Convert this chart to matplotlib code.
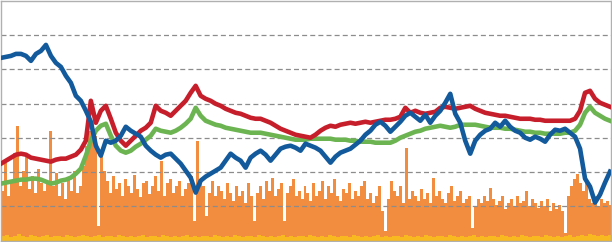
import numpy as np
import matplotlib
matplotlib.use("Agg")
import matplotlib.pyplot as plt

# three index lines, sampled at regular steps over the period
blue = [183, 184, 185, 187, 187, 185, 180, 187, 190, 196, 185, 178, 174, 165, 158, 145, 140, 130, 119, 95,
        85, 100, 98, 100, 105, 114, 110, 107, 104, 95, 90, 86, 83, 86, 87, 82, 77, 70, 63, 48,
        60, 64, 67, 70, 73, 80, 87, 83, 80, 73, 83, 87, 90, 86, 80, 86, 92, 94, 95, 93,
        90, 97, 95, 93, 90, 84, 78, 84, 88, 90, 92, 96, 100, 106, 110, 116, 119, 115, 109, 114,
        119, 125, 128, 124, 120, 126, 118, 125, 130, 138, 147, 127, 118, 100, 87, 100, 106, 110, 112, 118,
        114, 120, 114, 110, 108, 103, 101, 104, 102, 99, 106, 111, 110, 112, 108, 104, 92, 62, 54, 38,
        46, 58, 69]
red = [77, 80, 83, 86, 87, 86, 83, 82, 81, 80, 79, 81, 82, 82, 84, 86, 91, 100, 140, 118,
       130, 135, 122, 108, 100, 95, 100, 105, 110, 113, 118, 135, 130, 128, 125, 130, 135, 140, 148, 155,
       145, 142, 140, 137, 135, 132, 130, 128, 127, 125, 123, 122, 122, 120, 118, 115, 112, 110, 108, 106,
       105, 104, 103, 106, 110, 113, 115, 114, 116, 117, 118, 117, 118, 119, 118, 119, 120, 121, 121, 122,
       124, 133, 128, 130, 128, 127, 128, 129, 133, 134, 133, 132, 133, 134, 135, 132, 130, 128, 127, 126,
       125, 125, 124, 123, 122, 122, 122, 121, 121, 120, 120, 120, 120, 120, 120, 122, 130, 148, 150, 142,
       138, 136, 134]
green = [57, 58, 59, 60, 61, 61, 62, 62, 61, 59, 57, 58, 60, 61, 63, 67, 72, 85, 100, 110,
         115, 117, 105, 95, 90, 88, 90, 94, 97, 101, 105, 112, 110, 109, 108, 110, 113, 117, 122, 133,
         125, 120, 118, 116, 115, 113, 112, 111, 110, 109, 108, 108, 108, 107, 106, 105, 104, 103, 102, 101,
         101, 101, 102, 102, 102, 102, 102, 101, 101, 101, 100, 100, 99, 99, 99, 98, 98, 98, 98, 100,
         103, 105, 107, 109, 110, 112, 113, 114, 115, 114, 113, 114, 116, 116, 116, 116, 115, 114, 113, 113,
         113, 112, 112, 111, 110, 109, 109, 108, 108, 107, 107, 107, 107, 108, 108, 110, 116, 128, 134, 128,
         125, 122, 120]

# volume bars
volume = [50, 78, 45, 60, 88, 115, 55, 70, 85, 52,
          65, 48, 72, 58, 50, 60, 110, 55, 68, 45,
          58, 42, 62, 50, 70, 48, 55, 75, 95, 110,
          120, 105, 15, 85, 70, 60, 48, 65, 52, 58,
          45, 62, 55, 48, 66, 52, 44, 58, 60, 47,
          55, 65, 50, 80, 45, 58, 62, 48, 55, 60,
          45, 52, 58, 65, 20, 100, 60, 55, 25, 48,
          60, 45, 55, 50, 42, 58, 48, 40, 55, 45,
          50, 38, 58, 45, 20, 48, 55, 42, 60, 50,
          63, 45, 52, 58, 20, 48, 55, 62, 45, 50,
          42, 55, 48, 40, 58, 45, 50, 60, 42, 55,
          48, 62, 45, 40, 52, 48, 58, 42, 50, 45,
          55, 60, 42, 48, 38, 45, 55, 30, 10, 42,
          60, 50, 45, 55, 38, 93, 42, 50, 45, 40,
          52, 42, 48, 38, 63, 45, 50, 42, 38, 48,
          55, 40, 45, 50, 38, 42, 45, 13, 35, 42,
          38, 45, 40, 53, 42, 36, 40, 45, 32, 38,
          42, 35, 45, 38, 40, 50, 35, 42, 38, 33,
          40, 35, 42, 30, 38, 32, 36, 30, 8, 45,
          55, 62, 67, 58, 50, 60, 42, 38, 45, 35,
          42, 38, 40, 36]
small = [5, 6, 4, 5, 7, 5, 4, 6, 5, 4, 5, 6, 4, 5, 5, 4, 6, 5, 4, 5,
         6, 5, 4, 5, 6, 4, 5, 5, 4, 6, 5, 4, 5, 4, 5, 6, 4, 5, 5, 4,
         6, 5, 4, 5, 4, 5, 6, 4, 5, 4, 5, 5, 4, 6, 5, 4, 5, 4, 6, 5,
         4, 5, 5, 4, 6, 5, 4, 5, 4, 5, 6, 4, 5, 4, 5, 5, 4, 6, 5, 4,
         5, 4, 6, 5, 4, 5, 5, 4, 6, 5, 4, 5, 4, 5, 6, 4, 5, 4, 5, 5,
         4, 6, 5, 4, 5, 4, 6, 5, 4, 5, 5, 4, 6, 5, 4, 5, 4, 5, 6, 4,
         5, 4, 5, 5, 4, 6, 5, 4, 5, 4, 6, 5, 4, 5, 5, 4, 6, 5, 4, 5,
         4, 5, 6, 4, 5, 6, 5, 7, 6, 5, 6, 5, 6]

x_line = np.linspace(0, 610, len(blue))
x_bar = np.linspace(0, 609, len(volume))
x_small = np.linspace(0, 608, len(small))

fig = plt.figure(figsize=(6.12, 2.42), dpi=100)
ax = fig.add_axes([1 / 612, 1.5 / 242, 610 / 612, 239.5 / 242])

ax.bar(x_bar, volume, width=3, align="edge", color="#f28c3f", linewidth=0, zorder=1)
ax.bar(x_small, small, width=4, align="edge", color="#f7b820", linewidth=0, zorder=1.5)

for k in range(1, 7):
    ax.axhline(k * 34.3, color="#8c8c8c", lw=0.9, ls=(0, (4, 2.5)), zorder=2)

ax.plot(x_line, green, color="#6cb452", lw=3.3, zorder=3)
ax.plot(x_line, red, color="#c61f2b", lw=3.3, zorder=4)
ax.plot(x_line, blue, color="#125a9c", lw=3.3, zorder=5)

ax.set_xlim(0, 611)
ax.set_ylim(0, 240)
ax.set_xticks([])
ax.set_yticks([])
for s in ax.spines.values():
    s.set_color("#b0b0b0")
    s.set_linewidth(1)

fig.savefig("out.png", dpi=100)
